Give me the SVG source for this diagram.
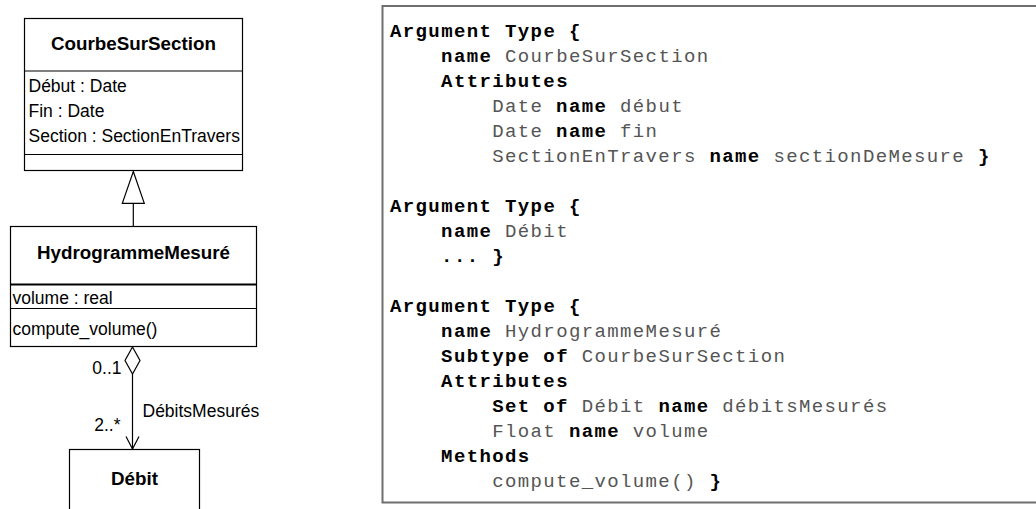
<svg xmlns="http://www.w3.org/2000/svg" width="1036" height="509" viewBox="0 0 1036 509">
<style>
.box{fill:#fff;stroke:#000;stroke-width:1.2}
.sep{stroke:#000;stroke-width:1.2}
.ln{stroke:#000;stroke-width:1.2;fill:none}
.h{font-family:"Liberation Sans",Arial,sans-serif;font-weight:bold;font-size:18.8px;fill:#000;text-anchor:middle}
.t{font-family:"Liberation Sans",Arial,sans-serif;font-size:17.5px;fill:#000}
.code{font-family:"Liberation Mono","Courier New",monospace;font-size:19px;letter-spacing:1.38px;fill:#555;white-space:pre}
.code .b{font-weight:bold;fill:#000}
</style>
<rect width="1036" height="509" fill="#fff"/>
<g id="CourbeSurSection">
<rect class="box" x="24.5" y="18.5" width="218" height="152"/>
<line class="sep" x1="24.5" y1="71" x2="242.5" y2="71"/>
<line class="sep" x1="24.5" y1="154.5" x2="242.5" y2="154.5"/>
<text class="h" x="133.5" y="50">CourbeSurSection</text>
<text class="t" x="28.5" y="91.5">Début : Date</text>
<text class="t" x="28.5" y="116.5">Fin : Date</text>
<text class="t" x="28.5" y="141.5">Section : SectionEnTravers</text>
</g>
<g id="HydrogrammeMesure">
<rect class="box" x="10.5" y="226.5" width="246" height="120"/>
<line x1="10.5" y1="284.5" x2="256.5" y2="284.5" stroke="#000" stroke-width="2"/>
<line class="sep" x1="10.5" y1="308.5" x2="256.5" y2="308.5"/>
<text class="h" x="133.5" y="259">HydrogrammeMesuré</text>
<text class="t" x="12.5" y="303.5">volume : real</text>
<text class="t" x="12.5" y="334.5">compute_volume()</text>
</g>
<g id="Debit">
<rect class="box" x="69.5" y="449.5" width="130" height="80"/>
<text class="h" x="134.5" y="485">Débit</text>
</g>
<g id="connectors">
<line class="ln" x1="133.3" y1="203.3" x2="133.3" y2="226.5"/>
<polygon class="ln" points="133.3,171.5 144.3,203.3 122.3,203.3" fill="#fff"/>
<polygon class="ln" points="132.5,347 140,360.5 132.5,374 125,360.5" fill="#fff"/>
<line class="ln" x1="132.5" y1="374" x2="132.5" y2="449"/>
<polyline class="ln" points="126,436.5 132.5,449 139,436.5"/>
<text class="t" x="121.5" y="374" text-anchor="end">0..1</text>
<text class="t" x="120.5" y="431" text-anchor="end">2..*</text>
<text class="t" x="142.5" y="417">DébitsMesurés</text>
</g>
<g id="code">
<path d="M1040,6 H382.5 V502.5 H1040" fill="none" stroke="#6e6e6e" stroke-width="2"/>
<text class="code" x="390" y="37"><tspan class="b">Argument Type {</tspan></text>
<text class="code" x="441.1" y="62"><tspan class="b">name</tspan> CourbeSurSection</text>
<text class="code" x="441.1" y="87"><tspan class="b">Attributes</tspan></text>
<text class="code" x="492.2" y="112">Date <tspan class="b">name</tspan> début</text>
<text class="code" x="492.2" y="137">Date <tspan class="b">name</tspan> fin</text>
<text class="code" x="492.2" y="162">SectionEnTravers <tspan class="b">name</tspan> sectionDeMesure <tspan class="b">}</tspan></text>
<text class="code" x="390" y="212"><tspan class="b">Argument Type {</tspan></text>
<text class="code" x="441.1" y="237"><tspan class="b">name</tspan> Débit</text>
<text class="code" x="441.1" y="262"><tspan class="b">... }</tspan></text>
<text class="code" x="390" y="312"><tspan class="b">Argument Type {</tspan></text>
<text class="code" x="441.1" y="337"><tspan class="b">name</tspan> HydrogrammeMesuré</text>
<text class="code" x="441.1" y="362"><tspan class="b">Subtype of</tspan> CourbeSurSection</text>
<text class="code" x="441.1" y="387"><tspan class="b">Attributes</tspan></text>
<text class="code" x="492.2" y="412"><tspan class="b">Set of</tspan> Débit <tspan class="b">name</tspan> débitsMesurés</text>
<text class="code" x="492.2" y="437">Float <tspan class="b">name</tspan> volume</text>
<text class="code" x="441.1" y="462"><tspan class="b">Methods</tspan></text>
<text class="code" x="492.2" y="487">compute_volume() <tspan class="b">}</tspan></text>
</g>
</svg>
